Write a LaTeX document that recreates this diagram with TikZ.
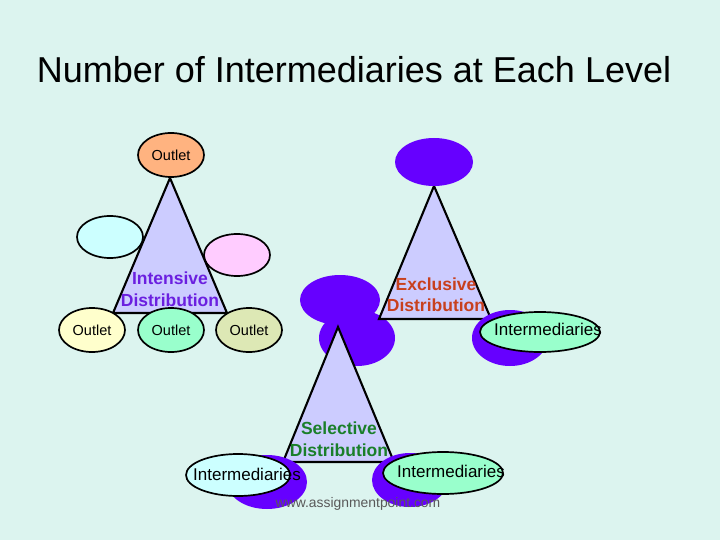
\documentclass[tikz,border=0pt]{standalone}
\usepackage{fontspec}
\setmainfont{Liberation Sans}
\usetikzlibrary{shapes.geometric}
\definecolor{bgc}{HTML}{DCF4EF}
\definecolor{lav}{HTML}{CCCCFF}
\definecolor{deep}{HTML}{6600FF}
\definecolor{peach}{HTML}{FFB380}
\definecolor{aqua}{HTML}{CCFFFF}
\definecolor{pinkish}{HTML}{FFCCFF}
\definecolor{cream}{HTML}{FFFFCC}
\definecolor{mint}{HTML}{99FFCC}
\definecolor{olive}{HTML}{DDE8B5}
\definecolor{intc}{HTML}{6B1FE0}
\definecolor{excc}{HTML}{C8401E}
\definecolor{selc}{HTML}{1A7F2A}
\begin{document}
\begin{tikzpicture}[x=1pt,y=-1pt,
	oval/.style={ellipse, draw=black, line width=1.7pt, inner sep=0pt, minimum width=66pt, minimum height=44pt},
	blob/.style={ellipse, fill=deep, inner sep=0pt},
	tri/.style={draw=black, line width=2.1pt, fill=lav},
	small/.style={font=\fontsize{14.5}{16}\selectfont},
	mid/.style={font=\fontsize{17}{18}\selectfont},
	big/.style={font=\bfseries\fontsize{17.5}{21.5}\selectfont, align=center}]
	\path
	(0,0) coordinate (NW)
	(720,540) coordinate (SE)
	(170,178) coordinate (IA)
	(113,313) coordinate (IB)
	(227,313) coordinate (IC)
	(434,186) coordinate (EA)
	(379,319) coordinate (EB)
	(491,319) coordinate (EC)
	(338,327) coordinate (SA)
	(283,462) coordinate (SB)
	(394,462) coordinate (SC);
	
	\fill[bgc] (NW) rectangle (SE);
	\useasboundingbox (NW) rectangle (SE);
	
	\node[font=\fontsize{36}{40}\selectfont] (title) at (354,70) {Number of Intermediaries at Each Level};
	
	% intensive
	\node[oval, fill=aqua, minimum height=42pt] (i1) at (110,237) {};
	\node[oval, fill=pinkish, minimum height=42pt] (i2) at (237,255) {};
	\draw[tri] (IA) -- (IB) -- (IC) -- cycle;
	\node[oval, fill=peach, small] (i0) at (171,155) {Outlet};
	\node[oval, fill=cream, small] (i3) at (92,330) {Outlet};
	\node[oval, fill=mint, small] (i4) at (171,330) {Outlet};
	\node[oval, fill=olive, small] (i5) at (249,330) {Outlet};
	\node[big, text=intc] (it) at (170,289) {Intensive\\Distribution};
	
	% exclusive
	\node[blob, minimum width=80pt, minimum height=50pt] (s0) at (340,300) {};
	\node[blob, minimum width=76pt, minimum height=56pt] (s1) at (357,338) {};
	\draw[tri] (EA) -- (EB) -- (EC) -- cycle;
	\node[blob, minimum width=78pt, minimum height=48pt] (e0) at (434,162) {};
	\node[blob, minimum width=76pt, minimum height=56pt] (e1) at (510,338) {};
	\node[oval, fill=mint, minimum width=120pt, minimum height=40pt] (e2) at (540,332) {};
	\node[mid] (e2t) at (548,329) {Intermediaries};
	\node[big, text=excc] (et) at (436,294.5) {Exclusive\\Distribution};
	
	% selective
	\draw[tri] (SA) -- (SB) -- (SC) -- cycle;
	\node[blob, minimum width=80pt, minimum height=54pt] (s2) at (267,482) {};
	\node[oval, fill=aqua, minimum width=104pt, minimum height=42pt] (s3) at (238,475) {};
	\node[mid] (s3t) at (247,474) {Intermediaries};
	\node[blob, minimum width=76pt, minimum height=54pt] (s4) at (410,480) {};
	\node[oval, fill=mint, minimum width=120pt, minimum height=42pt] (s5) at (443,473) {};
	\node[mid] (s5t) at (451,471) {Intermediaries};
	\node[big, text=selc] (st) at (339,439) {Selective\\Distribution};
	
	\node[font=\fontsize{13.9}{16}\selectfont, text=black!65] (wm) at (358,504) {www.assignmentpoint.com};
\end{tikzpicture}
\end{document}
